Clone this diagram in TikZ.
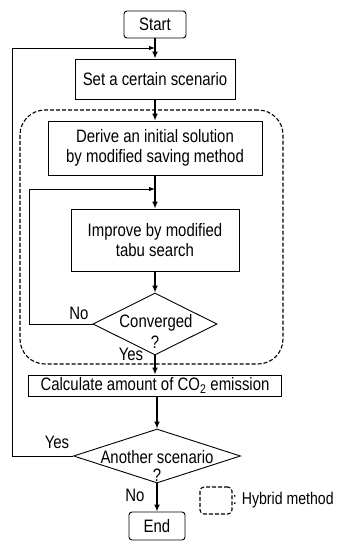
\documentclass[tikz,border=0pt]{standalone}
\usepackage{fontspec}
\setmainfont[FakeStretch=0.83]{Liberation Sans}
\usetikzlibrary{shapes.geometric,arrows.meta}
\begin{document}
\begin{tikzpicture}[x=1pt,y=-1pt, font=\fontsize{18}{20}\selectfont,
 box/.style={draw, line width=0.9pt, inner sep=0pt, align=center},
 dia/.style={draw, shape=diamond, line width=0.9pt, inner sep=0pt},
 flow/.style={line width=1.7pt, -{Latex[length=7pt,width=6pt]}},
 back/.style={line width=0.9pt, -{Latex[length=6pt,width=4.5pt]}},
 hyb/.style={draw, line width=1.1pt, dash pattern=on 4pt off 2pt},
 lbl/.style={inner sep=0pt}]
\useasboundingbox (0,0) rectangle (339,541);
% hybrid region
\node[hyb, rounded corners=25pt, minimum width=263, minimum height=254] (hybrid) at (151.5,237) {};
\node[box, rounded corners=3pt, minimum width=62, minimum height=27] (start) at (155,24.5) {Start};
\node[box, minimum width=160, minimum height=40] (set) at (155,79) {Set a certain scenario};
\node[box, minimum width=214, minimum height=54] (derive) at (155,148) {Derive an initial solution\\by modified saving method};
\node[box, minimum width=168, minimum height=62] (improve) at (155,240) {Improve by modified\\tabu search};
\node[dia, minimum width=124, minimum height=62] (conv) at (155,324) {};
\node[lbl] (convt) at (156,323) {Converged};
\node[lbl] (convq) at (155,342) {?};
\node[box, minimum width=253, minimum height=21] (calc) at (155,385.5) {Calculate amount of CO\textsubscript{2} emission};
\node[dia, minimum width=167, minimum height=54] (another) at (157,456) {};
\node[lbl] (anot) at (157,457) {Another scenario};
\node[lbl] (anoq) at (157,475) {?};
\node[box, rounded corners=3pt, minimum width=56, minimum height=28] (end) at (157,526) {End};
% labels
\node[lbl] (no1) at (79,313) {No};
\node[lbl] (yes1) at (131,354) {Yes};
\node[lbl] (yes2) at (57,442) {Yes};
\node[lbl] (no2) at (135,495) {No};
% legend
\node[hyb, rounded corners=4pt, minimum width=32, minimum height=27] (leg) at (216,500.5) {};
\node[lbl, anchor=west, font=\fontsize{17}{19}\selectfont] (legt) at (leg.east) {: Hybrid method};
% coordinates
\coordinate (fb) at (155,48);
\coordinate (fbl) at (12,48);
\coordinate (lp) at (155,189);
\coordinate (lpl) at (29,189);
% connectors
\draw[flow] (start) -- (set);
\draw[flow] (set) -- (derive);
\draw[flow] (derive) -- (improve);
\draw[flow] (improve) -- (conv);
\draw[flow] (conv) -- (calc);
\draw[flow] (calc.south -| another.north) -- (another);
\draw[flow] (another) -- (end);
\draw[back] (conv.west) -| (lpl) -- (lp);
\draw[back] (another.west) -| (fbl) -- (fb);
\end{tikzpicture}
\end{document}
